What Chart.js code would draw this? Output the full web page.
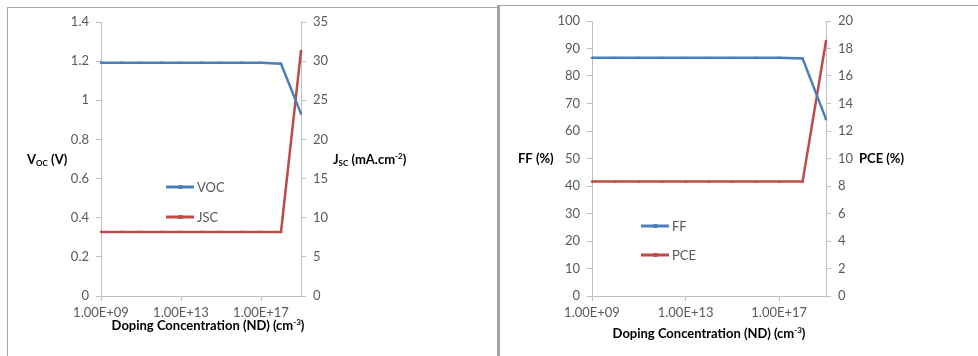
<!DOCTYPE html>
<html>
<head>
<meta charset="utf-8">
<script src="https://cdn.jsdelivr.net/npm/chart.js@4.4.0/dist/chart.umd.min.js"></script>
<style>
  html, body { margin: 0; padding: 0; background: #fff; }
  body { width: 978px; height: 356px; position: relative; overflow: hidden; }
  .c { position: absolute; top: 0; }
  #boxL { position: absolute; left: 7px; top: 7px; width: 490px; height: 360px;
          border-left: 1px solid #a6a6a6; border-top: 1px solid #a6a6a6; }
  #sep { position: absolute; left: 497px; top: 5px; width: 3px; height: 360px; background: #a3a3a3; }
  #boxR { position: absolute; left: 499px; top: 5px; width: 490px; height: 360px;
          border-top: 1px solid #a6a6a6; }
</style>
</head>
<body>
<div id="boxL"></div>
<div id="boxR"></div>
<div id="sep"></div>
<div class="c" style="left:0;width:490px;height:356px"><canvas id="left" width="490" height="356"></canvas></div>
<div class="c" style="left:490px;width:488px;height:356px"><canvas id="right" width="488" height="356"></canvas></div>
<script>
// ---------- data ----------
const categories = ['1.00E+09','1.00E+10','1.00E+11','1.00E+12','1.00E+13','1.00E+14',
                    '1.00E+15','1.00E+16','1.00E+17','1.00E+18','1.00E+19'];
const vocValues = [1.192,1.192,1.192,1.192,1.192,1.192,1.192,1.192,1.192,1.187,0.932];
const jscValues = [8.19,8.19,8.19,8.19,8.19,8.19,8.19,8.19,8.19,8.19,31.3];
const ffValues  = [86.6,86.6,86.6,86.6,86.6,86.6,86.6,86.6,86.6,86.4,64.3];
const pceValues = [8.32,8.32,8.32,8.32,8.32,8.32,8.32,8.32,8.32,8.32,18.55];

const BLUE = '#4a7ebb';
const RED = '#be4b48';
const AXIS = '#bfbfbf';
const TXT = '#595959';
const FONT = 'Lato, "Liberation Sans", sans-serif';

function rich(ctx, segs, x, y, align, size) {
  ctx.save();
  ctx.textBaseline = 'middle';
  ctx.textAlign = 'left';
  let total = 0;
  const parts = segs.map(s => {
    const sz = s.k ? Math.round(size * 0.62) : size;
    ctx.font = 'bold ' + sz + 'px ' + FONT;
    const w = ctx.measureText(s.t).width;
    total += w;
    return {t: s.t, k: s.k, sz, w};
  });
  let cx = align === 'center' ? x - total / 2 : x;
  ctx.fillStyle = '#000';
  parts.forEach(p => {
    ctx.font = 'bold ' + p.sz + 'px ' + FONT;
    const dy = p.k === 'sub' ? 3 : (p.k === 'sup' ? -4 : 0);
    ctx.fillText(p.t, cx, y + dy);
    cx += p.w;
  });
  ctx.restore();
}

function legendItem(ctx, x, y, color, label) {
  ctx.save();
  ctx.strokeStyle = color;
  ctx.lineWidth = 3;
  ctx.beginPath(); ctx.moveTo(x, y); ctx.lineTo(x + 28, y); ctx.stroke();
  ctx.fillStyle = color;
  ctx.fillRect(x + 12.5, y - 2, 4, 4);
  ctx.font = '13px ' + FONT;
  ctx.fillStyle = TXT;
  ctx.textBaseline = 'middle';
  ctx.fillText(label, x + 31, y + 1);
  ctx.restore();
}

function makeChart(id, cfg) {
  const ds = (label, data, color, axis) => ({
    label, data, yAxisID: axis, borderColor: color, backgroundColor: color,
    borderWidth: 2.5, pointStyle: 'rect', pointRadius: 1.6, pointBorderWidth: 0,
    tension: 0, fill: false
  });
  const yScale = (pos, max, step, width, fmt) => ({
    position: pos, min: 0, max: max,
    afterFit: s => { s.width = width; },
    grid: { drawOnChartArea: false, color: AXIS, tickLength: 5, lineWidth: 1 },
    border: { color: AXIS, width: 1 },
    ticks: { stepSize: step, color: TXT, font: { family: FONT, size: 13 }, padding: 7,
             callback: v => fmt(v) }
  });
  return new Chart(document.getElementById(id), {
    type: 'line',
    data: {
      labels: categories,
      datasets: [ds(cfg.n1, cfg.d1, BLUE, 'y'), ds(cfg.n2, cfg.d2, RED, 'y1')]
    },
    options: {
      responsive: false, animation: false,
      layout: { padding: { top: cfg.top, left: 0, right: 0, bottom: 0 } },
      plugins: { legend: { display: false }, tooltip: { enabled: false } },
      scales: {
        x: {
          type: 'category', offset: false,
          afterFit: s => { s.height = cfg.xh; },
          grid: { drawOnChartArea: false, tickLength: 5,
                  color: c => (c.index % 4 === 0 ? AXIS : 'rgba(0,0,0,0)') },
          border: { color: AXIS, width: 1 },
          ticks: { autoSkip: false, maxRotation: 0, color: TXT, padding: 4,
                   font: { family: FONT, size: 13 },
                   callback: (v, i) => (i % 4 === 0 ? categories[i] : '') }
        },
        y: yScale('left', cfg.m1, cfg.s1, cfg.lw, cfg.f1),
        y1: yScale('right', cfg.m2, cfg.s2, cfg.rw, cfg.f2)
      }
    },
    plugins: [{
      id: 'deco',
      afterDraw(chart) {
        const ctx = chart.ctx;
        cfg.titles(ctx, chart);
        legendItem(ctx, cfg.lgx, cfg.lgy1, BLUE, cfg.n1);
        legendItem(ctx, cfg.lgx, cfg.lgy2, RED, cfg.n2);
      }
    }]
  });
}

const fmtDec = v => (Math.round(v * 10) / 10).toString();
const fmtInt = v => Math.round(v).toString();

makeChart('left', {
  n1: 'VOC', n2: 'JSC', d1: vocValues, d2: jscValues,
  m1: 1.4, s1: 0.2, m2: 35, s2: 5, f1: fmtDec, f2: fmtInt,
  top: 22, xh: 60, lw: 101, rw: 189,
  lgx: 166, lgy1: 187, lgy2: 217,
  titles(ctx, chart) {
    rich(ctx, [{t:'V'},{t:'OC',k:'sub'},{t:' (V)'}], 27, 160, 'left', 13);
    rich(ctx, [{t:'J'},{t:'SC',k:'sub'},{t:' (mA.cm'},{t:'-2',k:'sup'},{t:')'}], 333, 160, 'left', 13);
    rich(ctx, [{t:'Doping Concentration (ND) (cm'},{t:'-3',k:'sup'},{t:')'}], 208, 326, 'center', 13);
  }
});

makeChart('right', {
  n1: 'FF', n2: 'PCE', d1: ffValues, d2: pceValues,
  m1: 100, s1: 10, m2: 20, s2: 2, f1: fmtInt, f2: fmtInt,
  top: 21, xh: 60, lw: 102, rw: 152,
  lgx: 151, lgy1: 226, lgy2: 255,
  titles(ctx, chart) {
    rich(ctx, [{t:'FF (%)'}], 28, 159, 'left', 13);
    rich(ctx, [{t:'PCE (%)'}], 369, 159, 'left', 13);
    rich(ctx, [{t:'Doping Concentration (ND) (cm'},{t:'-3',k:'sup'},{t:')'}], 219, 334, 'center', 13);
  }
});
</script>
</body>
</html>
